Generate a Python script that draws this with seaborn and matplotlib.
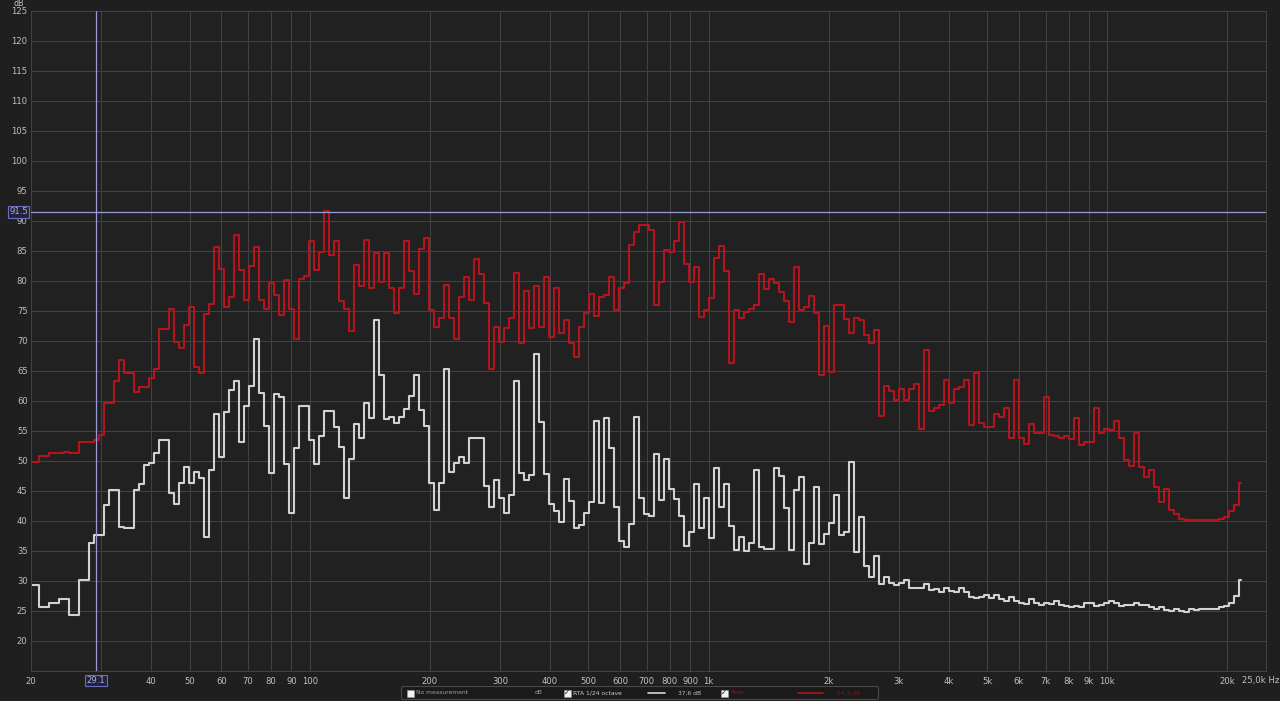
import numpy as np
import pandas as pd
import seaborn as sns
import matplotlib.pyplot as plt
import matplotlib.transforms as mtransforms
from matplotlib.patches import Rectangle, FancyBboxPatch

# RTA 1/24 octave trace (white), dB per band
rta_db = [
    29.3, 29.3, 25.7, 25.7, 26.4, 26.4, 27.0, 27.0, 24.3, 24.3,
    30.2, 30.2, 36.4, 37.6, 37.6, 42.7, 45.1, 45.1, 39.0, 38.9,
    38.9, 45.2, 46.1, 49.4, 49.7, 51.4, 53.5, 53.5, 44.7, 42.8,
    46.3, 49.0, 46.3, 48.2, 47.1, 37.3, 48.5, 57.8, 50.7, 58.1,
    61.9, 63.3, 53.2, 59.2, 62.5, 70.3, 61.3, 55.8, 48.0, 61.1,
    60.6, 49.5, 41.3, 52.2, 59.2, 59.2, 53.5, 49.5, 54.2, 58.3,
    58.3, 55.6, 52.3, 43.9, 50.3, 56.1, 53.8, 59.7, 57.1, 73.5,
    64.3, 57.0, 57.3, 56.4, 57.4, 58.7, 60.8, 64.3, 58.5, 55.9,
    46.4, 41.9, 46.4, 65.4, 48.1, 49.7, 50.7, 49.7, 53.8, 53.8,
    53.9, 45.9, 42.3, 46.8, 43.9, 41.4, 44.3, 63.4, 48.0, 46.8,
    47.6, 67.8, 56.5, 47.9, 42.8, 41.6, 39.8, 47.0, 43.3, 38.8,
    39.3, 41.3, 43.1, 56.6, 43.0, 57.1, 52.2, 42.3, 36.6, 35.6,
    39.5, 57.4, 43.9, 41.1, 40.8, 51.2, 43.5, 50.4, 45.3, 43.6,
    40.8, 35.8, 38.1, 46.1, 38.8, 43.8, 37.2, 48.8, 42.3, 46.2,
    39.2, 35.2, 37.4, 35.0, 36.3, 48.5, 35.6, 35.4, 35.4, 48.8,
    47.5, 42.1, 35.1, 45.1, 47.4, 32.8, 36.4, 45.6, 36.2, 37.8,
    39.7, 44.3, 37.7, 38.2, 49.9, 34.9, 40.6, 32.5, 30.7, 34.2,
    29.5, 30.6, 29.7, 29.3, 29.7, 30.1, 28.8, 28.8, 28.8, 29.5,
    28.5, 28.6, 28.2, 28.9, 28.3, 28.1, 28.8, 28.1, 27.4, 27.1,
    27.4, 27.6, 27.1, 27.7, 27.0, 26.6, 27.4, 26.7, 26.3, 26.2,
    27.0, 26.3, 26.0, 26.4, 26.2, 26.7, 26.0, 25.8, 25.6, 25.8,
    25.6, 26.4, 26.3, 25.8, 26.0, 26.3, 26.6, 26.4, 25.8, 26.0,
    26.0, 26.3, 26.0, 26.0, 25.6, 25.4, 25.6, 25.2, 25.0, 25.3,
    25.0, 24.9, 25.4, 25.2, 25.3, 25.3, 25.4, 25.4, 25.6, 25.8,
    26.3, 27.5, 30.2,
]

# Peak hold trace (red)
peak_db = [
    49.9, 49.9, 50.8, 50.8, 51.4, 51.4, 51.4, 51.5, 51.4, 51.4,
    53.1, 53.1, 53.2, 53.5, 54.3, 59.6, 59.6, 63.3, 66.8, 64.7,
    64.7, 61.5, 62.3, 62.3, 63.8, 65.3, 72.0, 72.0, 75.4, 69.9,
    68.8, 72.7, 75.7, 65.7, 64.7, 74.5, 76.2, 85.6, 82.0, 75.7,
    77.3, 87.7, 81.8, 76.8, 82.5, 85.6, 76.8, 75.4, 79.6, 77.6,
    74.3, 80.2, 75.4, 70.4, 80.4, 80.8, 86.6, 81.8, 84.9, 91.6,
    84.3, 86.7, 76.6, 75.4, 71.6, 82.7, 79.1, 86.8, 78.8, 84.6,
    79.9, 84.6, 78.8, 74.6, 78.8, 86.7, 81.6, 77.9, 85.3, 87.1,
    75.2, 72.4, 73.8, 79.3, 73.8, 70.3, 77.4, 80.6, 76.9, 83.6,
    81.2, 76.3, 65.4, 72.4, 69.9, 72.1, 73.8, 81.4, 69.6, 78.4,
    72.1, 79.2, 72.3, 80.6, 70.7, 78.8, 71.3, 73.5, 69.6, 67.4,
    72.4, 74.6, 77.9, 74.1, 77.4, 77.7, 80.6, 75.2, 78.8, 79.6,
    86.0, 88.2, 89.3, 89.3, 88.5, 76.0, 79.9, 85.2, 84.9, 86.7,
    89.8, 82.9, 79.9, 82.4, 74.0, 75.2, 77.2, 83.8, 85.8, 81.6,
    66.4, 75.2, 73.8, 74.9, 75.4, 76.0, 81.2, 78.6, 80.4, 79.7,
    78.2, 76.6, 73.1, 82.4, 75.2, 75.6, 77.5, 74.7, 64.3, 72.5,
    64.9, 76.0, 76.0, 73.6, 71.4, 73.8, 73.5, 71.0, 69.6, 71.9,
    57.5, 62.5, 61.7, 60.1, 62.0, 60.2, 62.0, 62.8, 55.4, 68.5,
    58.4, 58.9, 59.3, 63.5, 59.7, 62.0, 62.3, 63.5, 56.0, 64.7,
    56.3, 55.7, 55.6, 57.9, 57.4, 58.9, 53.9, 63.5, 53.9, 52.9,
    56.2, 54.7, 54.7, 60.6, 54.4, 54.2, 53.8, 54.2, 53.6, 57.2,
    52.7, 53.2, 53.2, 58.9, 54.6, 55.4, 55.2, 56.7, 53.8, 50.2,
    49.2, 54.6, 49.0, 47.4, 48.5, 45.7, 43.2, 45.3, 41.8, 41.2,
    40.3, 40.2, 40.1, 40.1, 40.1, 40.1, 40.2, 40.2, 40.3, 40.6,
    41.6, 42.7, 46.3,
]

# 1/24 octave band centres from 20 Hz
bands_hz = 20 * 2 ** (np.arange(len(rta_db)) / 24)

grid_hz = [20, 30, 40, 50, 60, 70, 80, 90, 100, 200, 300, 400, 500, 600, 700,
           800, 900, 1000, 2000, 3000, 4000, 5000, 6000, 7000, 8000, 9000,
           10000, 20000]
grid_txt = ['20', '', '40', '50', '60', '70', '80', '90', '100', '200', '300',
            '400', '500', '600', '700', '800', '900', '1k', '2k', '3k', '4k',
            '5k', '6k', '7k', '8k', '9k', '10k', '20k']
db_ticks = list(range(20, 126, 5))

cursor_hz = 29.1
cursor_db = 91.5
rta_label = 'RTA 1/24 octave'
rta_level = '37,6 dB'
peak_label = 'Peak'
peak_level = '54,3 dB'

bg = '#1f1f1f'
grid_col = '#424242'
txt_col = '#c0c0c0'
cur_col = '#9a9ad8'
red = '#b3141d'
white = '#d2d2d2'
fs = 6.1

sns.set_theme(style='darkgrid', rc={
    'figure.facecolor': bg, 'axes.facecolor': '#212121',
    'grid.color': grid_col, 'grid.linewidth': 0.75,
    'axes.edgecolor': grid_col, 'text.color': txt_col,
    'xtick.color': txt_col, 'ytick.color': txt_col,
})
plt.rcParams['font.family'] = ['DejaVu Sans']

df = pd.DataFrame({'Hz': bands_hz, 'RTA': rta_db, 'Peak': peak_db})

W, H = 1280, 701
fig = plt.figure(figsize=(W / 100, H / 100), dpi=100)
ax = fig.add_axes([31 / W, (H - 671) / H, (1266 - 31) / W, 660 / H])
ax.set_xscale('log')

sns.lineplot(data=df, x='Hz', y='Peak', ax=ax, estimator=None, color=red,
             lw=1.5, drawstyle='steps-mid')
sns.lineplot(data=df, x='Hz', y='RTA', ax=ax, estimator=None, color=white,
             lw=1.5, drawstyle='steps-mid')

ax.set_xlim(20, 25000)
ax.set_ylim(15, 125)
ax.set_xticks(grid_hz)
ax.set_xticklabels(grid_txt)
ax.xaxis.set_minor_locator(plt.NullLocator())
ax.set_yticks(db_ticks)
ax.tick_params(axis='both', length=0, labelsize=fs, colors=txt_col)
ax.tick_params(axis='y', pad=2.4)
ax.tick_params(axis='x', pad=4.2)
ax.set_xlabel('')
ax.set_ylabel('')
ax.grid(True, color=grid_col, lw=0.75)
for s in ax.spines.values():
    s.set_color(grid_col)
    s.set_linewidth(0.75)

# cursor
ax.axvline(cursor_hz, color=cur_col, lw=0.9, zorder=5)
ax.axhline(cursor_db, color=cur_col, lw=0.9, zorder=5)
box = dict(boxstyle='square,pad=0.15', fc='#23233a', ec='#6c6cc0', lw=0.8)
ty = mtransforms.blended_transform_factory(fig.transFigure, ax.transData)
ax.text(18.5 / W, cursor_db, f'{cursor_db:.1f}', transform=ty, ha='center',
        va='center', fontsize=fs, color='#a8a8e0', bbox=box, zorder=6,
        clip_on=False)
tx = mtransforms.blended_transform_factory(ax.transData, fig.transFigure)
ax.text(cursor_hz, 1 - 680.5 / H, f'{cursor_hz:.1f}', transform=tx,
        ha='center', va='center', fontsize=fs, color='#a8a8e0', bbox=box,
        zorder=6, clip_on=False)

fig.text(19 / W, 1 - 3 / H, 'dB', ha='center', va='center', fontsize=5.8,
         color=txt_col)
fig.text(1279 / W, 1 - 680.5 / H, '25,0k Hz', ha='right', va='center',
         fontsize=fs, color=txt_col)

# legend strip at the bottom
lax = fig.add_axes([401 / W, (H - 700) / H, 478 / W, 14 / H])
lax.set_xlim(0, 478)
lax.set_ylim(0, 14)
lax.axis('off')
lax.add_patch(FancyBboxPatch((0.5, 0.5), 477, 13,
                             boxstyle='round,pad=0,rounding_size=2',
                             fc='#1a1a1a', ec='#4a4a4a', lw=0.8))


def checkbox(x, checked):
    lax.add_patch(Rectangle((x, 3.5), 6.5, 7, fc='#f2f2f2', ec='#9a9a9a', lw=0.4))
    if checked:
        lax.text(x + 3.3, 7, '\u2713', ha='center', va='center', fontsize=5,
                 color='#1a1a1a')


checkbox(6, False)
lax.text(15, 7, 'No measurement', va='center', fontsize=4.3, color='#9c9c9c')
lax.text(134, 7, 'dB', va='center', fontsize=4.3, color='#9c9c9c')
checkbox(163, True)
lax.text(172, 7, rta_label, va='center', fontsize=4.3, color='#cfcfcf')
lax.plot([247, 264], [7, 7], color=white, lw=1.2)
lax.text(277, 7, rta_level, va='center', fontsize=4.3, color='#c4c4c4')
checkbox(320, True)
lax.text(329, 7, peak_label, va='center', fontsize=4.3, color='#8e1214')
lax.plot([397, 422], [7, 7], color=red, lw=1.2)
lax.text(436, 7, peak_level, va='center', fontsize=4.3, color='#8e1214')

fig.savefig('out.png', dpi=100, facecolor=bg)
